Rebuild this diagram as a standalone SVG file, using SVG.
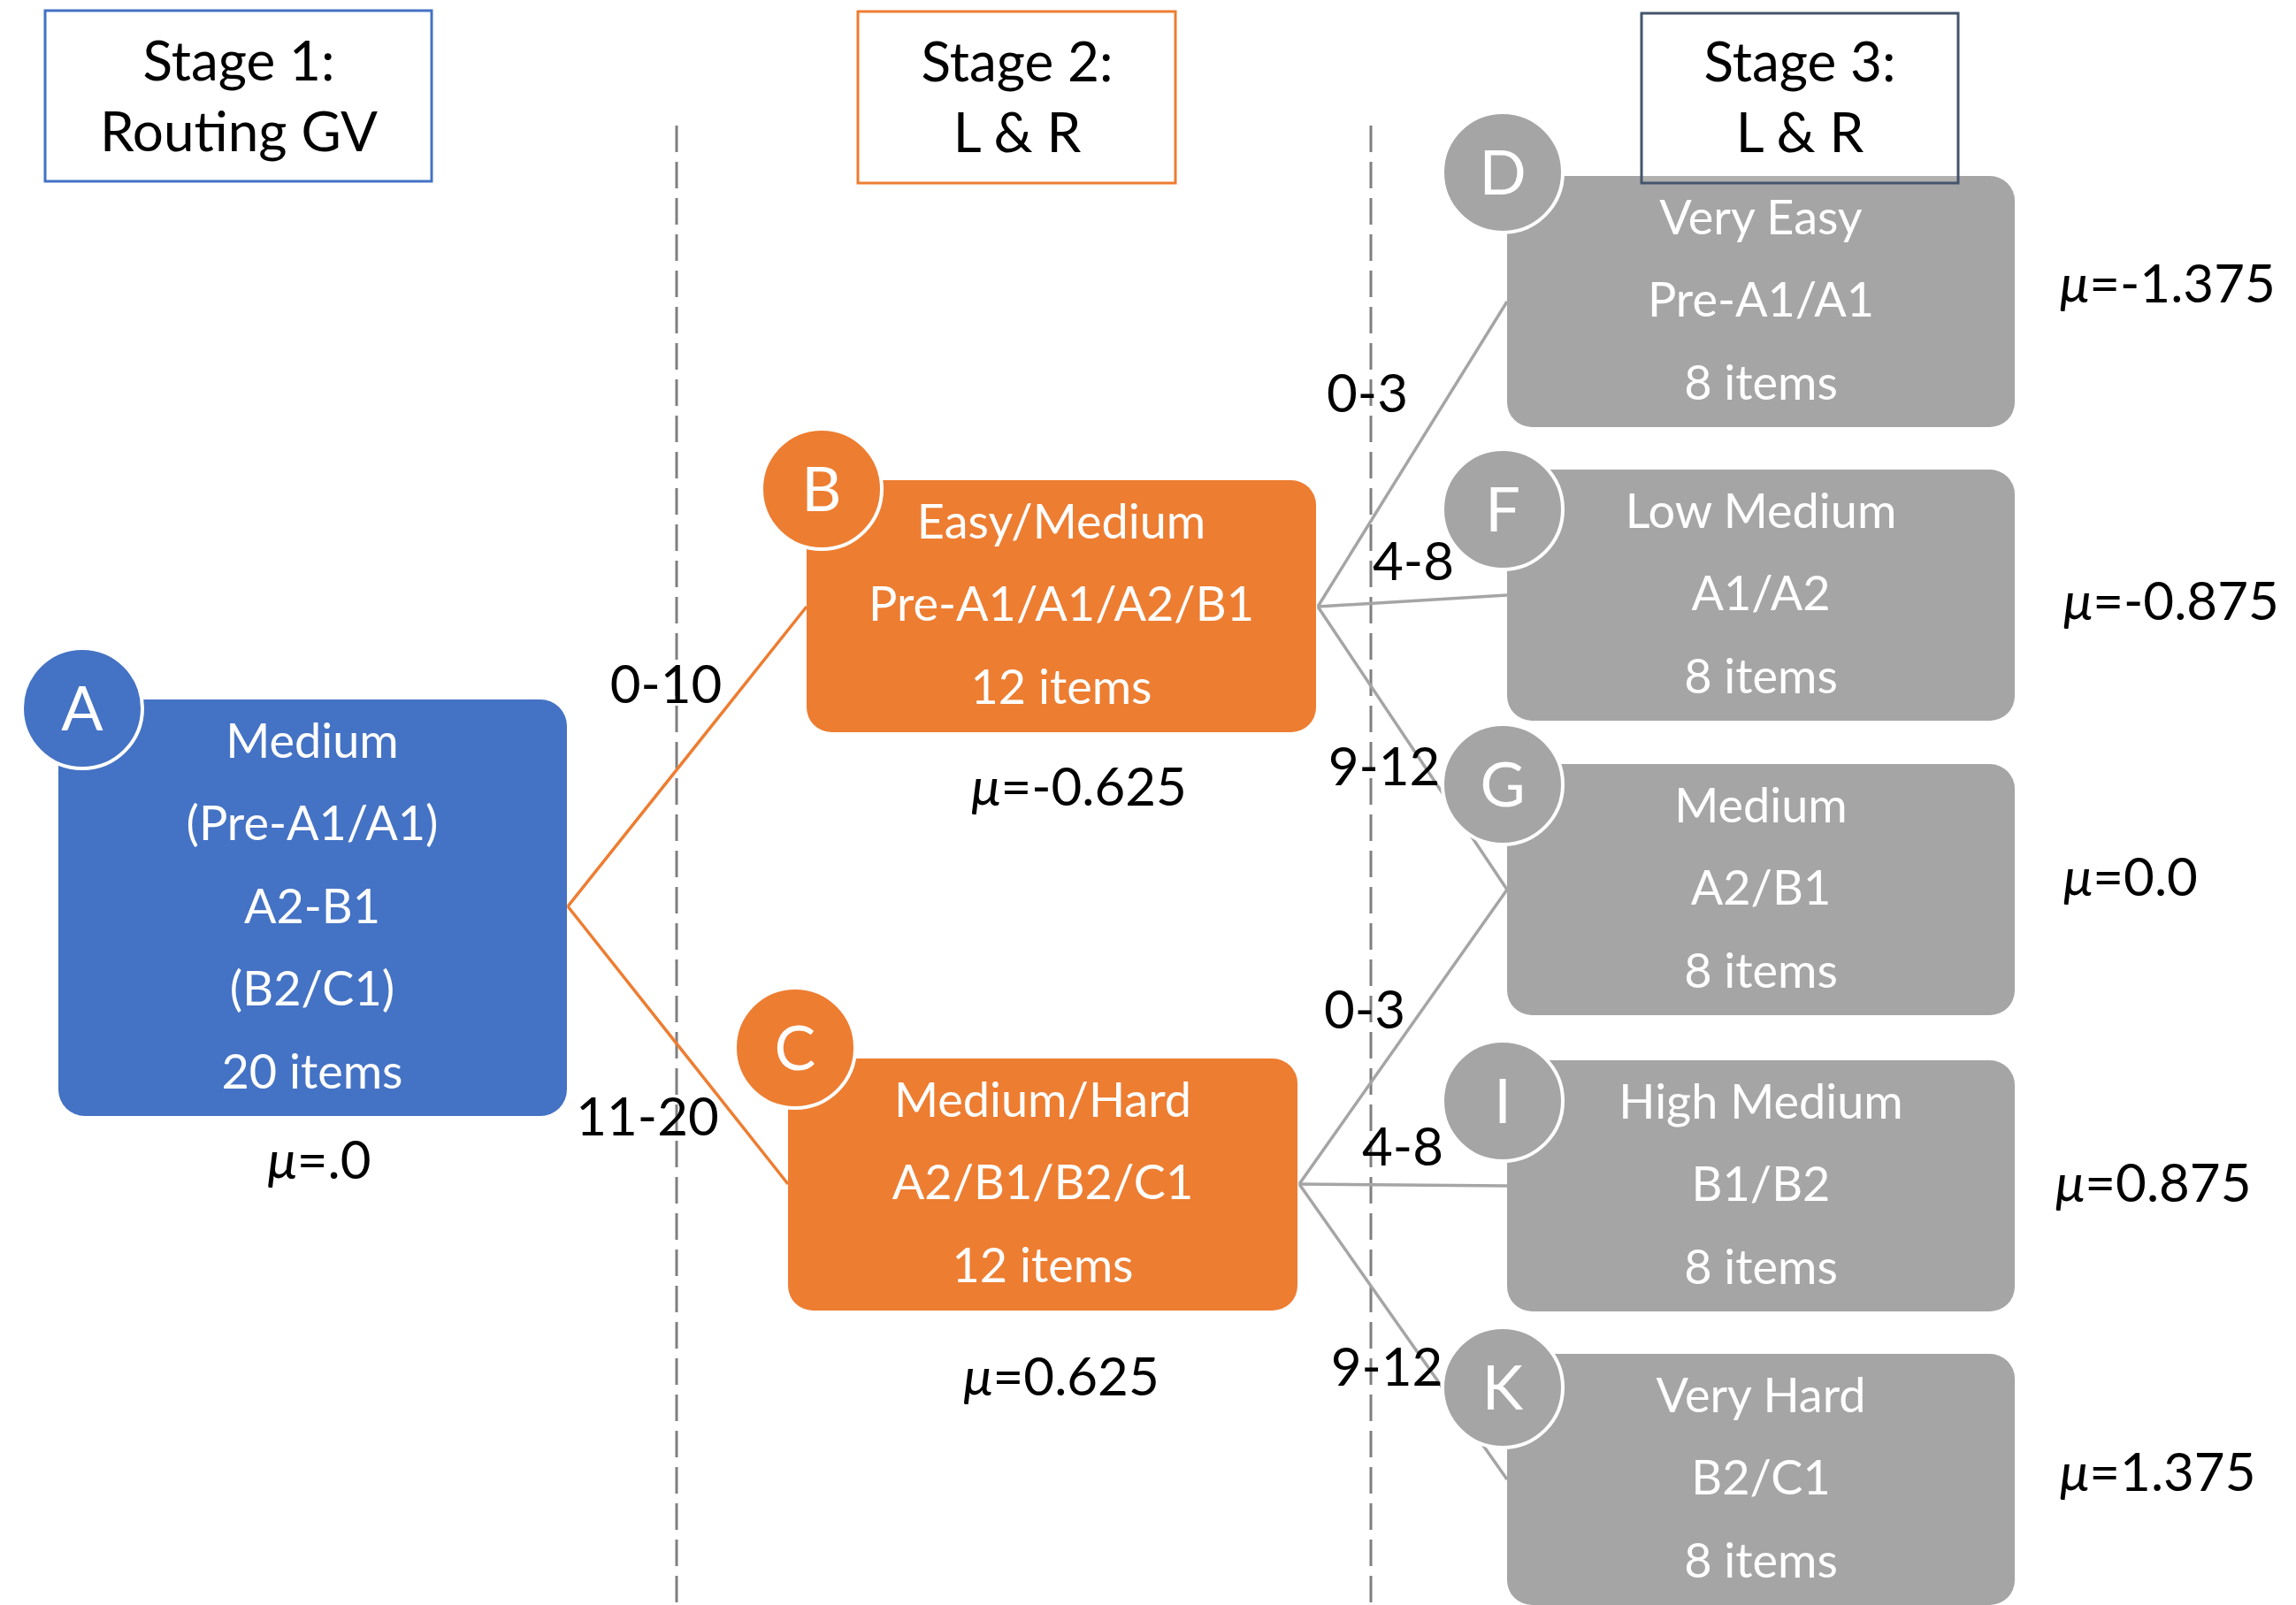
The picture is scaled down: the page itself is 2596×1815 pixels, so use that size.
<svg xmlns="http://www.w3.org/2000/svg" width="2596" height="1815" viewBox="0 0 2596 1815">
<style>
  text { font-family: Lato, "Noto Sans", "DejaVu Sans", sans-serif; }
  .hdr { font-size: 62px; fill: #000; text-anchor: middle; }
  .nt { font-size: 54px; fill: #fff; text-anchor: middle; }
  .cl { font-size: 70px; fill: #fff; text-anchor: middle; }
  .lbl { font-size: 60px; fill: #000; text-anchor: middle; }
  .mu { font-size: 60px; fill: #000; }
  .mu .g { font-style: italic; }
  .blue { fill: #4472C4; }
  .orange { fill: #ED7D31; }
  .grey { fill: #A5A5A5; }
  .ring { stroke: #fff; stroke-width: 4; }
  .div { stroke: #7F7F7F; stroke-width: 3; stroke-dasharray: 30 11; fill: none; }
  .c-or { stroke: #ED7D31; stroke-width: 3.5; fill: none; }
  .c-gr { stroke: #A5A5A5; stroke-width: 3.5; fill: none; }
  .box { fill: #fff; fill-opacity: 0.12; stroke-width: 3; }
</style>

<!-- stage dividers -->
<g id="dividers">
  <line class="div" x1="765" y1="142" x2="765" y2="1815"/>
  <line class="div" x1="1550" y1="142" x2="1550" y2="1815"/>
</g>

<!-- routing connectors -->
<g id="connectors">
  <path class="c-or" d="M642 1025 L912 686"/>
  <path class="c-or" d="M642 1025 L891 1339"/>
  <path class="c-gr" d="M1490 686 L1704 341"/>
  <path class="c-gr" d="M1490 686 L1704 673"/>
  <path class="c-gr" d="M1490 686 L1704 1006"/>
  <path class="c-gr" d="M1469 1339 L1704 1006"/>
  <path class="c-gr" d="M1469 1339 L1704 1341"/>
  <path class="c-gr" d="M1469 1339 L1704 1673"/>
</g>

<!-- stage 1 -->
<g id="node-A">
  <rect class="blue" x="66" y="791" width="575" height="471" rx="30"/>
  <circle class="blue ring" cx="93" cy="801" r="68"/>
  <text class="cl" x="93" y="826">A</text>
  <text class="nt" x="353" y="857">Medium</text>
  <text class="nt" x="353" y="950">(Pre-A1/A1)</text>
  <text class="nt" x="353" y="1044">A2-B1</text>
  <text class="nt" x="353" y="1137">(B2/C1)</text>
  <text class="nt" x="353" y="1231">20 items</text>
</g>

<!-- stage 2 -->
<g id="node-B">
  <rect class="orange" x="912" y="543" width="576" height="285" rx="28"/>
  <circle class="orange ring" cx="929" cy="553" r="68"/>
  <text class="cl" x="929" y="578">B</text>
  <text class="nt" x="1200" y="609">Easy/Medium</text>
  <text class="nt" x="1200" y="702">Pre-A1/A1/A2/B1</text>
  <text class="nt" x="1200" y="796">12 items</text>
</g>
<g id="node-C">
  <rect class="orange" x="891" y="1197" width="576" height="285" rx="28"/>
  <circle class="orange ring" cx="899" cy="1185" r="68"/>
  <text class="cl" x="899" y="1210">C</text>
  <text class="nt" x="1179" y="1263">Medium/Hard</text>
  <text class="nt" x="1179" y="1356">A2/B1/B2/C1</text>
  <text class="nt" x="1179" y="1450">12 items</text>
</g>

<!-- stage 3 -->
<g id="node-D">
  <rect class="grey" x="1704" y="199" width="574" height="284" rx="28"/>
  <circle class="grey ring" cx="1699" cy="195" r="68"/>
  <text class="cl" x="1699" y="220">D</text>
  <text class="nt" x="1991" y="265">Very Easy</text>
  <text class="nt" x="1991" y="358">Pre-A1/A1</text>
  <text class="nt" x="1991" y="452">8 items</text>
</g>
<g id="node-F">
  <rect class="grey" x="1704" y="531" width="574" height="284" rx="28"/>
  <circle class="grey ring" cx="1699" cy="576" r="68"/>
  <text class="cl" x="1699" y="601">F</text>
  <text class="nt" x="1991" y="597">Low Medium</text>
  <text class="nt" x="1991" y="690">A1/A2</text>
  <text class="nt" x="1991" y="784">8 items</text>
</g>
<g id="node-G">
  <rect class="grey" x="1704" y="864" width="574" height="284" rx="28"/>
  <circle class="grey ring" cx="1699" cy="887" r="68"/>
  <text class="cl" x="1699" y="912">G</text>
  <text class="nt" x="1991" y="930">Medium</text>
  <text class="nt" x="1991" y="1023">A2/B1</text>
  <text class="nt" x="1991" y="1117">8 items</text>
</g>
<g id="node-I">
  <rect class="grey" x="1704" y="1199" width="574" height="284" rx="28"/>
  <circle class="grey ring" cx="1699" cy="1245" r="68"/>
  <text class="cl" x="1699" y="1270">I</text>
  <text class="nt" x="1991" y="1265">High Medium</text>
  <text class="nt" x="1991" y="1358">B1/B2</text>
  <text class="nt" x="1991" y="1452">8 items</text>
</g>
<g id="node-K">
  <rect class="grey" x="1704" y="1531" width="574" height="284" rx="28"/>
  <circle class="grey ring" cx="1699" cy="1569" r="68"/>
  <text class="cl" x="1699" y="1594">K</text>
  <text class="nt" x="1991" y="1597">Very Hard</text>
  <text class="nt" x="1991" y="1690">B2/C1</text>
  <text class="nt" x="1991" y="1784">8 items</text>
</g>

<!-- score ranges on connectors -->
<g id="ranges">
  <text class="lbl" x="753" y="795">0-10</text>
  <text class="lbl" x="732" y="1284">11-20</text>
  <text class="lbl" x="1546" y="466">0-3</text>
  <text class="lbl" x="1598" y="656">4-8</text>
  <text class="lbl" x="1565" y="888">9-12</text>
  <text class="lbl" x="1543" y="1163">0-3</text>
  <text class="lbl" x="1586" y="1318">4-8</text>
  <text class="lbl" x="1568" y="1567">9-12</text>
</g>

<!-- mean difficulty per module -->
<g id="means">
  <text class="mu" x="361" y="1333" text-anchor="middle"><tspan class="g">μ</tspan>=.0</text>
  <text class="mu" x="1220" y="911" text-anchor="middle"><tspan class="g">μ</tspan>=-0.625</text>
  <text class="mu" x="1200" y="1578" text-anchor="middle"><tspan class="g">μ</tspan>=0.625</text>
  <text class="mu" x="2329" y="342"><tspan class="g">μ</tspan>=-1.375</text>
  <text class="mu" x="2333" y="701"><tspan class="g">μ</tspan>=-0.875</text>
  <text class="mu" x="2333" y="1013"><tspan class="g">μ</tspan>=0.0</text>
  <text class="mu" x="2324" y="1359"><tspan class="g">μ</tspan>=0.875</text>
  <text class="mu" x="2329" y="1686"><tspan class="g">μ</tspan>=1.375</text>
</g>

<!-- stage headers -->
<g id="stage-1">
  <rect class="box" x="51" y="12" width="437" height="193" stroke="#4472C4"/>
  <text class="hdr" x="270" y="91">Stage 1:</text>
  <text class="hdr" x="270" y="171">Routing GV</text>
</g>
<g id="stage-2">
  <rect class="box" x="970" y="13" width="359" height="194" stroke="#ED7D31"/>
  <text class="hdr" x="1150" y="92">Stage 2:</text>
  <text class="hdr" x="1150" y="172">L &amp; R</text>
</g>
<g id="stage-3">
  <rect class="box" x="1856" y="15" width="358" height="192" stroke="#44546A"/>
  <text class="hdr" x="2035" y="92">Stage 3:</text>
  <text class="hdr" x="2035" y="172">L &amp; R</text>
</g>
</svg>
